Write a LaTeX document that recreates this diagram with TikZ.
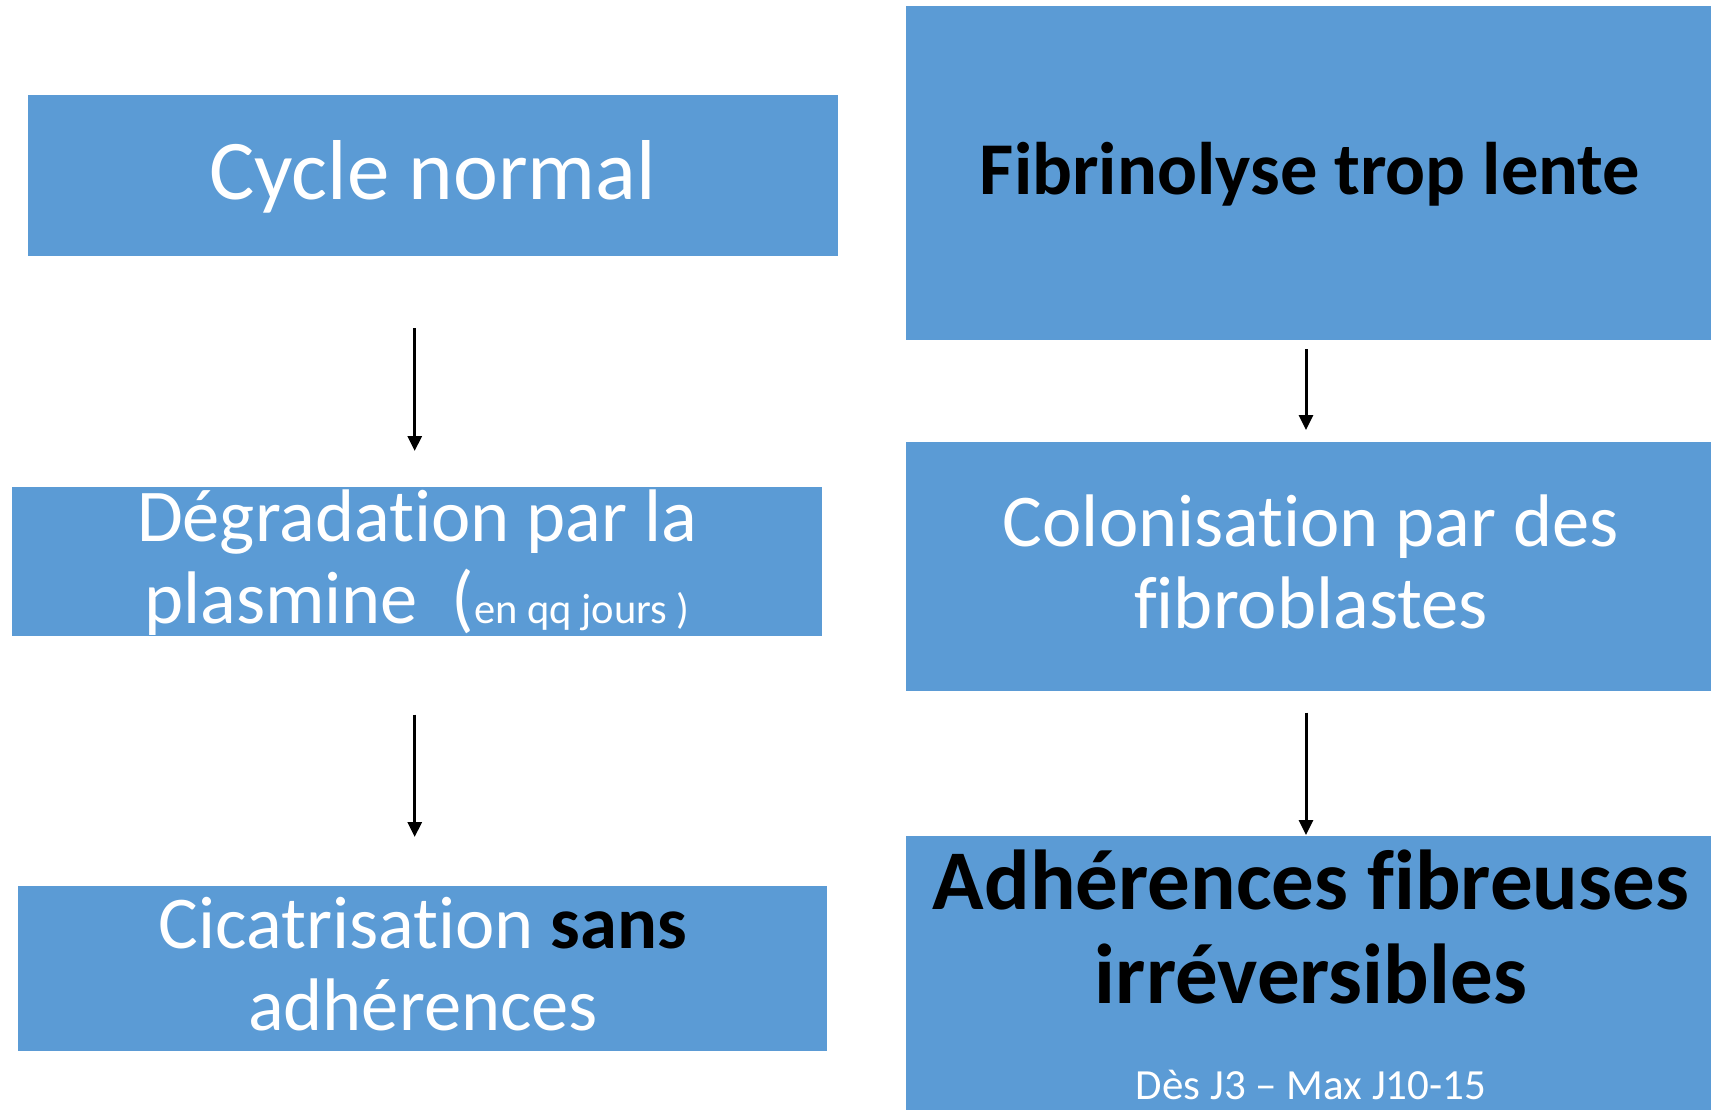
\documentclass[tikz,border=0pt]{standalone}
\usepackage{fontspec}
\setmainfont{Carlito}
\usetikzlibrary{arrows.meta}
\definecolor{boxblue}{RGB}{91,155,213}
\tikzset{
  box/.style={rectangle, fill=boxblue, draw=none, inner sep=0pt},
  txt/.style={anchor=base, inner sep=0pt, text=white},
  conn/.style={line width=3pt, -{Triangle[length=15pt,width=14pt]}},
}
\newcommand{\fsz}[1]{\fontsize{#1}{#1}\selectfont}
\newcommand{\nl}{\kern0pt}
\begin{document}
\begin{tikzpicture}[x=1pt,y=-1pt]
\useasboundingbox (0,0) rectangle (1711,1110);
% boxes
\node[box, minimum width=809.6pt, minimum height=161.5pt] (b1) at (433.2,175.75) {};
\node[box, minimum width=805pt, minimum height=334pt] (b2) at (1308.5,173) {};
\node[box, minimum width=810pt, minimum height=149pt] (b3) at (417,561.5) {};
\node[box, minimum width=805pt, minimum height=249pt] (b4) at (1308.5,566.5) {};
\node[box, minimum width=809.5pt, minimum height=165pt] (b5) at (422.25,968.5) {};
\node[box, minimum width=805pt, minimum height=274pt] (b6) at (1308.5,973) {};
% texts
\node[txt] (t1) at (432.6,200) {\fsz{85}Cycle normal};
\node[txt, text=black] (t2) at (1310,195) {\fsz{74.5}\bfseries Fibrinolyse trop lente};
\node[txt] (t3a) at (417,541) {\fsz{74.5}Dégradat\nl ion par la};
\node[txt] (t3b) at (417,623) {\fsz{74.5}plasmine\ \ (\fsz{42.5}en qq jours )};
\node[txt] (t4a) at (1311,546) {\fsz{74.5}Colonisat\nl ion par des};
\node[txt] (t4b) at (1311,628) {\fsz{74.5}f\nl ibroblastes};
\node[txt] (t5a) at (423,948) {\fsz{74.5}Cicat\nl risat\nl ion \textcolor{black}{\bfseries sans}};
\node[txt] (t5b) at (423,1030) {\fsz{74.5}adhérences};
\node[txt, text=black] (t6a) at (1311,909) {\fsz{85}\bfseries Adhérences f\nl ibreuses};
\node[txt, text=black] (t6b) at (1311,1003.6) {\fsz{85}\bfseries irréversibles};
\node[txt] (t6c) at (1311,1099) {\fsz{43}Dès J3 – Max J10-15};
% connector ends
\coordinate (a1s) at (414.7,328);
\coordinate (a1e) at (414.7,451);
\coordinate (a2s) at (414.7,714.6);
\coordinate (a2e) at (414.7,837);
\coordinate (a3s) at (1306,349);
\coordinate (a3e) at (1306,430);
\coordinate (a4s) at (1306,712.5);
\coordinate (a4e) at (1306,835);
\draw[conn] (a1s) -- (a1e);
\draw[conn] (a2s) -- (a2e);
\draw[conn] (a3s) -- (a3e);
\draw[conn] (a4s) -- (a4e);
\end{tikzpicture}
\end{document}
